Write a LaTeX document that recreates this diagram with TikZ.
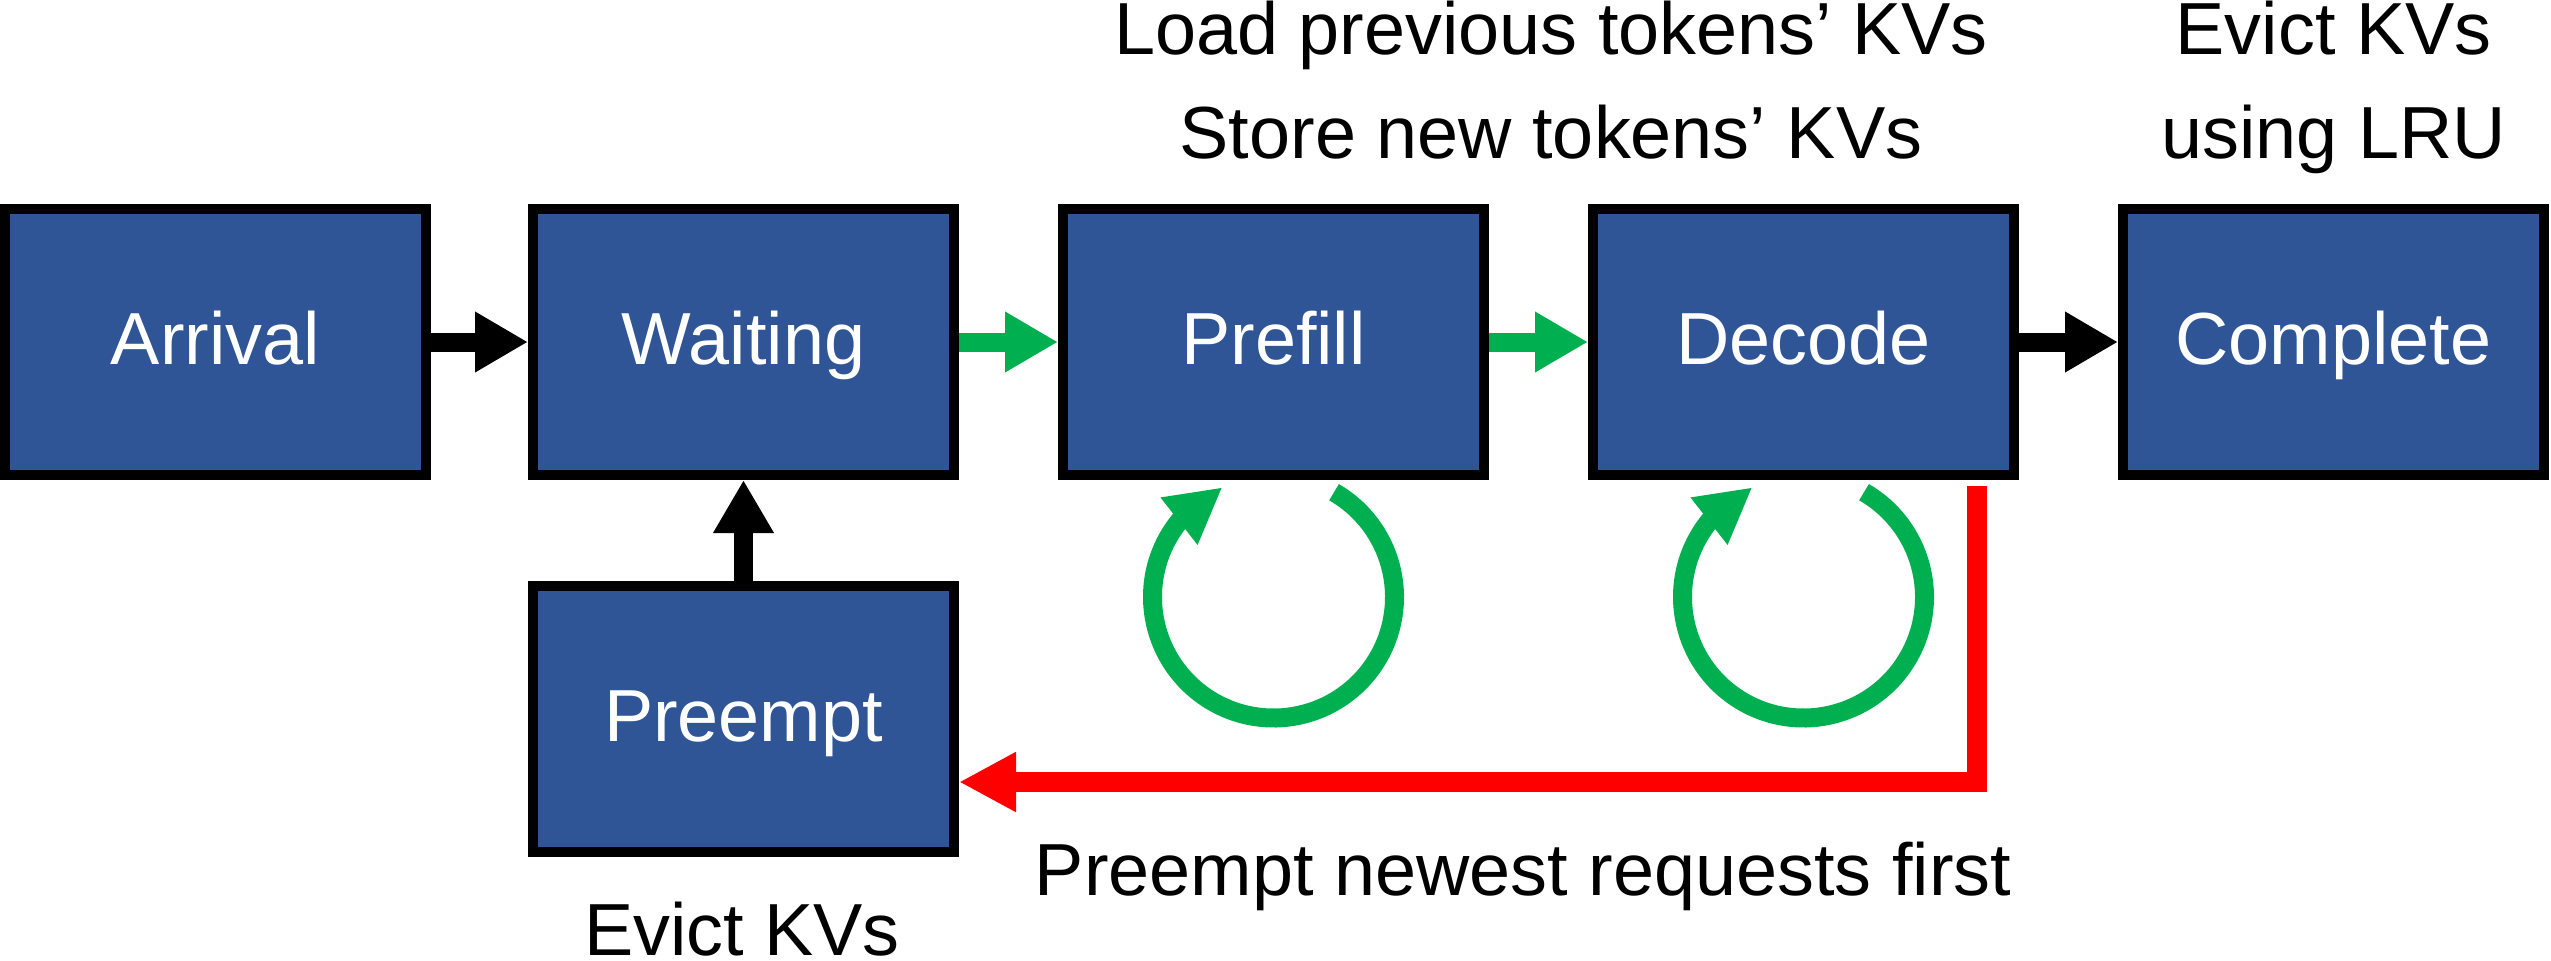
\documentclass[tikz,border=0pt]{standalone}
\usepackage{fontspec}
\setmainfont{Liberation Sans}
\usepackage{tikz}
\usetikzlibrary{arrows.meta, bending, calc}

\definecolor{boxblue}{HTML}{2F5597}
\definecolor{flowgreen}{HTML}{00B050}
\definecolor{preemptred}{HTML}{FF0000}

\begin{document}
\begin{tikzpicture}[
    box/.style={draw=black, line width=0.1cm, fill=boxblue, text=white, inner sep=0pt,
        minimum width=4.21cm, minimum height=2.66cm, text height=0.53cm, text depth=0.08cm,
        font=\fontsize{21}{29.5}\selectfont},
    note/.style={inner sep=0pt, align=center, text depth=0pt, font=\fontsize{21}{29.5}\selectfont},
    flow/.style={line width=0.19cm, -{Triangle[length=0.53cm, width=0.57cm]}},
    selfloop/.style={draw=flowgreen, line width=0.19cm, -{Triangle[length=0.55cm, width=0.56cm, flex]}},
    preemptline/.style={draw=preemptred, line width=0.195cm, -{Triangle[length=0.57cm, width=0.56cm]}}
]
        % 캔버스 크기 고정
        \useasboundingbox (0,0) rectangle (25.51,9.60);

        % 요청 상태 박스들 (윗줄)
        \node[box] (arrival) at (2.155,6.18) {Arrival};
        \node[box] (waiting) at (7.435,6.18) {Waiting};
        \node[box] (prefill) at (12.735,6.18) {Prefill};
        \node[box] (decode) at (18.035,6.18) {Decode};
        \node[box] (complete) at (23.335,6.18) {Complete};

        % 선점된 요청 박스 (아랫줄)
        \node[box] (preempt) at (7.435,2.41) {Preempt};

        % 상태 전이 화살표
        \draw[flow, draw=black] (arrival) -- (waiting);
        \draw[flow, draw=flowgreen] (waiting) -- (prefill);
        \draw[flow, draw=flowgreen] (prefill) -- (decode);
        \draw[flow, draw=black] (decode) -- (complete);
        \draw[flow, draw=black] (preempt) -- (waiting);

        % prefill / decode 반복 (둥근 화살표)
        \draw[selfloop] ($(prefill.south)+(0,-1.17)+(60:1.21)$) arc[start angle=60, end angle=-245, radius=1.21cm];
        \draw[selfloop] ($(decode.south)+(0,-1.17)+(60:1.21)$) arc[start angle=60, end angle=-245, radius=1.21cm];

        % decode 에서 preempt 로 가는 빨간 선
        \draw[preemptline] ([xshift=-0.42cm, yshift=-0.06cm]decode.south east) |- ([yshift=-0.63cm]preempt.east);

        % 설명 글
        \node[note, anchor=south] (kvnote) at (15.51,8.01) {Load previous tokens’ KVs\\Store new tokens’ KVs};
        \node[note, anchor=south] (lrunote) at (23.335,8.01) {Evict KVs\\using LRU};
        \node[note, anchor=base] (ordernote) at (15.23,0.65) {Preempt newest requests first};
        \node[note, anchor=base] (evictnote) at (7.42,0.05) {Evict KVs};

    \end{tikzpicture}
\end{document}
